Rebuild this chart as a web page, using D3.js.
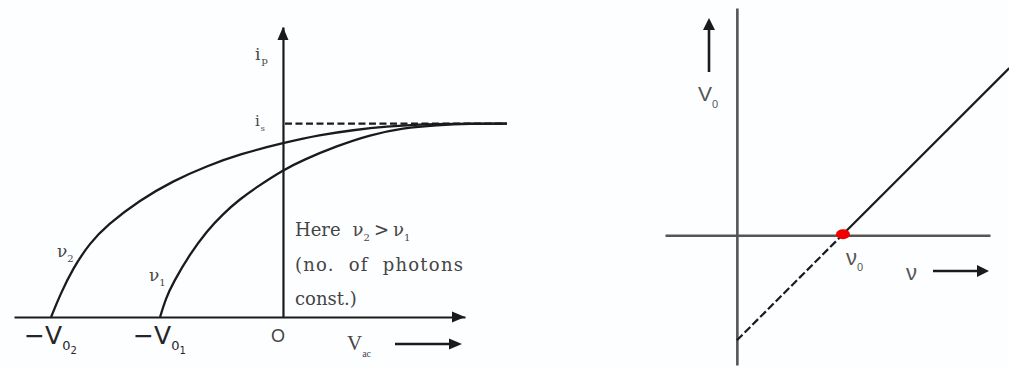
<!DOCTYPE html>
<html>
<head>
<meta charset="utf-8">
<script src="https://cdn.jsdelivr.net/npm/d3@7"></script>
<style>
  html, body { margin: 0; padding: 0; background: #fdfeff; }
  svg { display: block; }
  .domain { stroke-linecap: butt; }
</style>
</head>
<body>
<svg id="chart" width="1009" height="367"></svg>
<script>
// ---- Left panel: photocurrent vs. anode potential ----
const voltExtent = [-2.32, 1.57];      // extent of the V_ac axis
const currentExtent = [0, 1.5];        // extent of the i_p axis
const saturationCurrent = 1.0;
const saturationEnd = 1.93;
const stoppingPotentials = [-2.0, -1.06];   // −V02, −V01

// Curve for frequency ν2 (higher frequency, larger stopping potential)
const nu2Voltage = [-2.0, -1.923, -1.811, -1.665, -1.518, -1.233, -0.949, -0.656, -0.371, 0, 0.319, 0.604, 0.897, 1.182, 1.44, 1.93];
const nu2Current = [0, 0.114, 0.253, 0.383, 0.476, 0.605, 0.704, 0.781, 0.843, 0.9, 0.942, 0.967, 0.986, 0.996, 1.0, 1.0];

// Curve for frequency ν1
const nu1Voltage = [-1.06, -1.009, -0.949, -0.802, -0.656, -0.518, -0.371, -0.224, 0, 0.172, 0.466, 0.75, 1.035, 1.328, 1.613, 1.93];
const nu1Current = [0, 0.098, 0.176, 0.326, 0.445, 0.533, 0.61, 0.673, 0.76, 0.812, 0.885, 0.942, 0.978, 0.993, 1.0, 1.0];

// ---- Right panel: stopping potential vs. frequency ----
const freqExtent = [-0.67, 2.36];
const stopExtent = [-1.21, 2.12];
const thresholdFreq = 0.98;
const lineFreq = [0, 0.98, 2.54];
const lineStop = [-0.98, 0, 1.56];

const svg = d3.select("#chart");
const ink = "#1b1b1b";
const grey = "#454545";
const serif = "'DejaVu Serif', 'Liberation Serif', serif";
const lserif = "'Liberation Serif', serif";
const sans = "'Liberation Sans', Arial, sans-serif";
const dsans = "'DejaVu Sans', sans-serif";

// Left scales
const xL = d3.scaleLinear().domain(voltExtent).range([14, 465]);
const yL = d3.scaleLinear().domain(currentExtent).range([317, 27]);

const left = svg.append("g");

// Axes: plain lines drawn by d3 axes with no ticks
left.append("g")
  .attr("transform", `translate(0,${yL(0)})`)
  .call(d3.axisBottom(xL).tickValues([]).tickSizeOuter(0));
left.append("g")
  .attr("transform", `translate(${xL(0)},0)`)
  .call(d3.axisLeft(yL).tickValues([]).tickSizeOuter(0));
left.selectAll(".domain").attr("stroke", ink).attr("stroke-width", 2.2);

function arrowHead(g, tipX, tipY, dir, len, half, color) {
  let pts;
  if (dir === "right") pts = [[tipX, tipY], [tipX - len, tipY - half], [tipX - len, tipY + half]];
  else pts = [[tipX, tipY], [tipX - half, tipY + len], [tipX + half, tipY + len]];
  g.append("path").attr("d", "M" + pts.join("L") + "Z").attr("fill", color);
}
arrowHead(left, xL(voltExtent[1]), yL(0), "right", 13, 5.5, ink);
arrowHead(left, xL(0), yL(currentExtent[1]), "up", 13, 5.5, ink);

// Saturation level (dashed)
left.append("line")
  .attr("x1", xL(0) + 2).attr("x2", xL(saturationEnd))
  .attr("y1", yL(saturationCurrent)).attr("y2", yL(saturationCurrent))
  .attr("stroke", ink).attr("stroke-width", 2.2)
  .attr("stroke-dasharray", "7,3.5");

const curveLine = d3.line()
  .x(d => xL(d[0])).y(d => yL(d[1]))
  .curve(d3.curveBasis);

[[nu2Voltage, nu2Current], [nu1Voltage, nu1Current]].forEach(([vs, is]) => {
  left.append("path")
    .datum(vs.map((v, k) => [v, is[k]]))
    .attr("d", curveLine)
    .attr("fill", "none").attr("stroke", ink).attr("stroke-width", 2.3);
});

// Text helper with sub/superscript parts
function label(g, x, y, parts, font, size, color) {
  const t = g.append("text").attr("x", x).attr("y", y)
    .attr("font-family", font).attr("font-size", size).attr("fill", color);
  parts.forEach(p => {
    const ts = t.append("tspan").text(p.t);
    if (p.size) ts.attr("font-size", p.size);
    if (p.dy) ts.attr("dy", p.dy);
    if (p.dx) ts.attr("dx", p.dx);
    if (p.font) ts.attr("font-family", p.font);
  });
  return t;
}

label(left, 255, 60, [{t: "i"}, {t: "p", size: 10, dy: 4, dx: 1}], serif, 17, grey);
label(left, 255, 126, [{t: "i"}, {t: "s", size: 8, dy: 5, dx: 1}], serif, 15, grey);

label(left, 57, 257, [{t: "ν"}, {t: "2", size: 10, dy: 5}], serif, 17, grey);
label(left, 149, 281, [{t: "ν"}, {t: "1", size: 10, dy: 5}], serif, 17, grey);

label(left, 295, 236, [{t: "Here"}, {t: "ν", dx: 12}, {t: "2", size: 10, dy: 5},
  {t: ">", dx: 4, dy: -5}, {t: "ν", dx: 4}, {t: "1", size: 10, dy: 5}], serif, 18, grey);
label(left, 295, 271, [{t: "(no.  of  photons"}], serif, 18, grey)
  .attr("textLength", 168).attr("lengthAdjust", "spacing").attr("xml:space", "preserve");
label(left, 295, 305, [{t: "const.)"}], serif, 18, grey);

// Stopping potential markers under the axis
const stopLabels = [["0", "2"], ["0", "1"]];
stoppingPotentials.forEach((v, k) => {
  const x = xL(v);
  label(left, x - 27, 344, [{t: "−"}, {t: "V", dx: 0},
    {t: stopLabels[k][0], size: 13, dy: 6}, {t: stopLabels[k][1], size: 10, dy: 4}],
    dsans, 25, "#262626");
});
label(left, xL(0) - 12, 342, [{t: "O"}], sans, 18, grey);
label(left, 347, 350, [{t: "V"}, {t: "ac", size: 10, dy: 7}], lserif, 21, grey);

left.append("line").attr("x1", 395).attr("x2", 450).attr("y1", 344).attr("y2", 344)
  .attr("stroke", ink).attr("stroke-width", 2.4);
arrowHead(left, 462, 344, "right", 13, 5.5, ink);

// Right scales
const xR = d3.scaleLinear().domain(freqExtent).range([665, 990]);
const yR = d3.scaleLinear().domain(stopExtent).range([365, 8]);
const right = svg.append("g");

right.append("g")
  .attr("transform", `translate(0,${yR(0)})`)
  .call(d3.axisBottom(xR).tickValues([]).tickSizeOuter(0));
right.append("g")
  .attr("transform", `translate(${xR(0)},0)`)
  .call(d3.axisLeft(yR).tickValues([]).tickSizeOuter(0));
right.selectAll(".domain").attr("stroke", "#555").attr("stroke-width", 2.6);

const stopLine = d3.line().x(d => xR(d[0])).y(d => yR(d[1]));
const pts = lineFreq.map((f, k) => [f, lineStop[k]]);
right.append("path").datum(pts.slice(0, 2)).attr("d", stopLine)
  .attr("fill", "none").attr("stroke", ink).attr("stroke-width", 2.2)
  .attr("stroke-dasharray", "8,3");
right.append("path").datum(pts.slice(1)).attr("d", stopLine)
  .attr("fill", "none").attr("stroke", ink).attr("stroke-width", 2.2);

right.append("ellipse")
  .attr("cx", xR(thresholdFreq) + 1).attr("cy", yR(0) - 1)
  .attr("rx", 7).attr("ry", 5).attr("fill", "#f00000");

// Direction arrows and labels
right.append("line").attr("x1", 709).attr("x2", 709).attr("y1", 72).attr("y2", 28)
  .attr("stroke", ink).attr("stroke-width", 2.6);
arrowHead(right, 709, 18, "up", 12, 6, ink);
label(right, 698, 101, [{t: "V"}, {t: "0", size: 11, dy: 7}], sans, 21, "#555");

label(right, xR(thresholdFreq) + 4, 265, [{t: "ν"}, {t: "0", size: 11, dy: 6}], sans, 22, "#555");
label(right, 906, 280, [{t: "ν"}], sans, 22, "#555");
right.append("line").attr("x1", 933).attr("x2", 978).attr("y1", 271).attr("y2", 271)
  .attr("stroke", ink).attr("stroke-width", 2.6);
arrowHead(right, 989, 271, "right", 12, 6, ink);
</script>
</body>
</html>
